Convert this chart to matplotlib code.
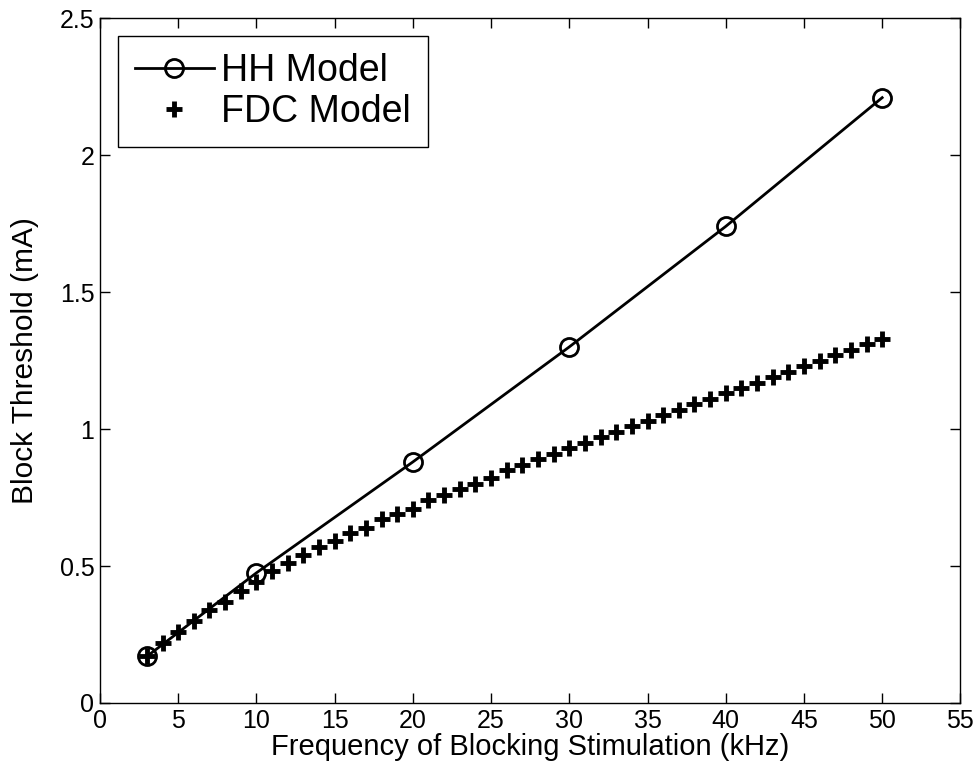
import matplotlib
matplotlib.use("Agg")
import matplotlib.pyplot as plt

plt.rcParams['font.family'] = ['Liberation Sans', 'DejaVu Sans']

# HH model (line with circles)
hh_freq = [3, 10, 20, 30, 40, 50]
hh_thresh = [0.17, 0.475, 0.88, 1.30, 1.74, 2.21]

# FDC model (plus markers, every 1 kHz)
fdc_freq = list(range(3, 51))
fdc_thresh = [0.17, 0.22, 0.26, 0.30, 0.34, 0.37, 0.41, 0.44, 0.48, 0.51,
              0.54, 0.57, 0.59, 0.62, 0.64, 0.67, 0.69, 0.71, 0.74, 0.76,
              0.78, 0.80, 0.82, 0.85, 0.87, 0.89, 0.91, 0.93, 0.95, 0.97,
              0.99, 1.01, 1.03, 1.05, 1.07, 1.09, 1.11, 1.13, 1.15, 1.17,
              1.19, 1.21, 1.23, 1.25, 1.27, 1.29, 1.31, 1.33]

x_ticks = list(range(0, 60, 5))
y_ticks = [0, 0.5, 1, 1.5, 2, 2.5]
y_tick_labels = ['0', '0.5', '1', '1.5', '2', '2.5']

fig = plt.figure(figsize=(9.8, 7.79), dpi=100)
ax = fig.add_axes([0.102, 0.0976, 0.878, 0.879])

ax.plot(hh_freq, hh_thresh, color='black', lw=2, marker='o', ms=13,
        mfc='none', mew=2, label='HH Model')
ax.plot(fdc_freq, fdc_thresh, color='black', ls='none', marker='+', ms=11,
        mew=3.5, label='FDC Model')

ax.set_xlim(0, 55)
ax.set_ylim(0, 2.5)
ax.set_xticks(x_ticks)
ax.set_yticks(y_ticks)
ax.set_yticklabels(y_tick_labels)
ax.tick_params(direction='in', top=True, right=True, length=7, labelsize=18, width=1, pad=4)
for s in ax.spines.values():
    s.set_linewidth(1)

ax.set_xlabel('Frequency of Blocking Stimulation (kHz)', fontsize=21)
ax.xaxis.set_label_coords(0.5, -0.064)
ax.xaxis.label.set_va('center')
ax.set_ylabel('Block Threshold (mA)', fontsize=21.5)
ax.yaxis.set_label_coords(-0.087, 0.5)
ax.yaxis.label.set_va('center')

leg = ax.legend(loc='upper left', bbox_to_anchor=(0.021, 0.974), borderaxespad=0,
                fontsize=27, fancybox=False, edgecolor='black', framealpha=1,
                handlelength=2.1, handletextpad=0.2, borderpad=0.45, labelspacing=0.13)
leg.get_frame().set_linewidth(1)

fig.savefig('out.png', dpi=100)
